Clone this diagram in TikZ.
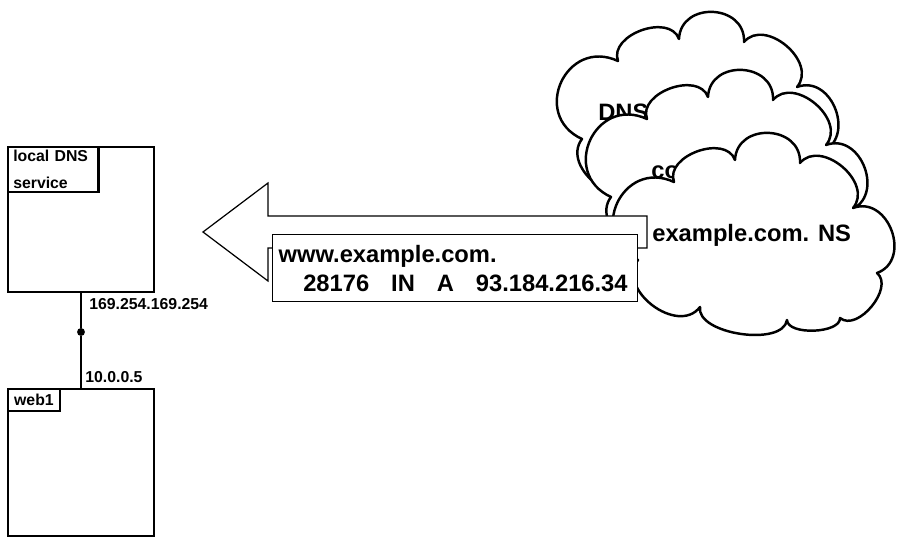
\documentclass[tikz,border=0pt]{standalone}
\usepackage{fontspec}
\setmainfont{Liberation Sans}

\begin{document}
\begin{tikzpicture}[x=0.02cm,y=-0.02cm]
  \tikzstyle{host}=[draw,line width=1.2pt,minimum width=2.92cm,minimum height=2.9cm,inner sep=0pt]
  \tikzstyle{hosttag}=[draw,line width=1.2pt,anchor=north west,align=left,inner xsep=3.5pt,inner ysep=2pt,font=\bfseries\fontsize{9}{15}\selectfont]
  \tikzstyle{addr}=[anchor=west,inner sep=0pt,font=\bfseries\fontsize{9}{11}\selectfont]
  \tikzstyle{port}=[circle,fill=black,minimum size=4.5pt,inner sep=0pt]
  \tikzstyle{puff}=[draw,fill=white,line width=1.4pt,line join=round]
  \tikzstyle{cloudtext}=[anchor=base west,inner sep=0pt,font=\bfseries\fontsize{13.5}{17}\selectfont]
  \tikzstyle{record}=[draw,fill=white,line width=0.8pt,anchor=north west,align=left,text width=7.06cm,inner xsep=0.12cm,minimum height=1.34cm,font=\bfseries\fontsize{13.5}{16.4}\selectfont]
  \useasboundingbox (0,0) rectangle (917,546);
  % hosts
  \node[host] (dns) at (81,219.5) {};
  \node[hosttag,text width=1.6cm,inner xsep=3pt] (dnstag) at (dns.north west) {local DNS\\service};
  \node[host,minimum height=2.94cm] (web) at (81,462.5) {};
  \node[hosttag,inner ysep=3pt] (webtag) at (web.north west) {web1};
  \node[port] (link) at (81,332) {};
  \draw[line width=1.2pt] (dns.south) -- (link) -- (web.north);
  \node[addr] (dnsaddr) at (89,304) {169.254.169.254};
  \node[addr] (webaddr) at (85,377) {10.0.0.5};
  % name servers, back to front
  \foreach \cx/\cy/\tx/\nm/\lbl in {696/111/598/root/DNS, 725/169/651/com/co, 752/232/652/zone/example.com. NS}{
    \draw[puff,shift={(\cx,\cy)}] (-78,-50) to[bend left=90,looseness=1.1] (-17,-72)
      to[bend left=90,looseness=1.5] (48,-69) to[bend left=90,looseness=1.2] (101,-24)
      to[bend left=90,looseness=1.4] (125,41) to[bend left=90,looseness=1] (88,86)
      to[bend left=90,looseness=0.75] (35,88) to[bend left=90,looseness=0.8] (-52,75)
      to[bend left=90,looseness=1.2] (-114,28) to[bend left=90,looseness=1.7] (-78,-50) -- cycle;
    \node[cloudtext] (\nm) at (\tx,\cy+10) {\lbl};
  }
  % answer
  \draw[line width=0.7pt,fill=white] (203,232) -- (268,183) -- (268,216) -- (647,216)
    -- (647,248) -- (268,248) -- (268,281) -- cycle;
  \node[record] (answer) at (272,234) {www.example.com.\\\hspace*{14pt}28176\hspace{12.5pt}IN\hspace{12.5pt}A\hspace{12.5pt}93.184.216.34};
\end{tikzpicture}
\end{document}
